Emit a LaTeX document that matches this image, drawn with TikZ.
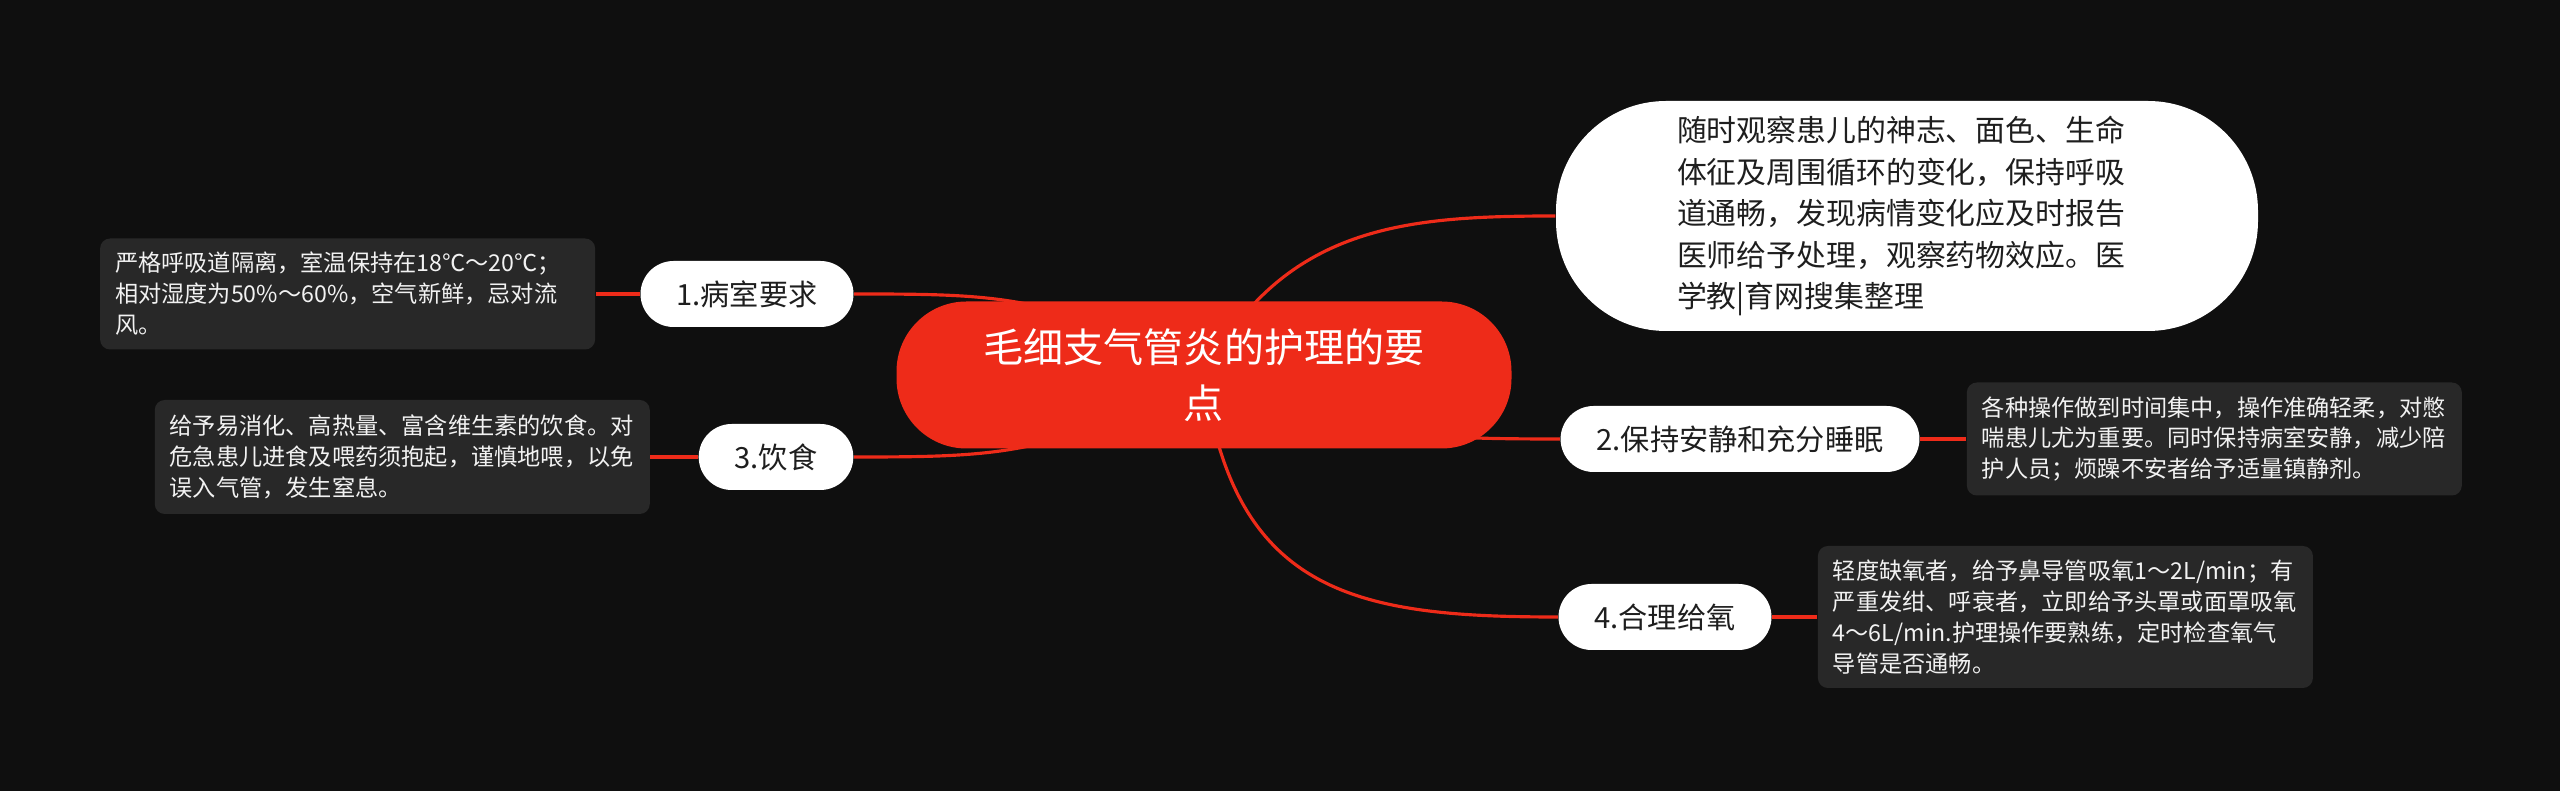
\documentclass[tikz,border=0pt]{standalone}
\usepackage{fontspec}
\setmainfont{Noto Sans CJK SC}
\usetikzlibrary{positioning}
\definecolor{PageBlack}{HTML}{0F0F0F}
\definecolor{RootRed}{HTML}{EE2B19}
\definecolor{NoteGray}{HTML}{282828}
\definecolor{NoteInk}{HTML}{F2F2F2}
\definecolor{BranchInk}{HTML}{1E1E1E}
\pgfdeclarelayer{back}
\pgfsetlayers{back,main}

\begin{document}
\begin{tikzpicture}[
  branch/.style={fill=white, text=BranchInk, rounded corners=0.33cm,
    minimum height=0.66cm, inner xsep=0.36cm, inner ysep=0pt,
    font=\fontsize{8.3pt}{10pt}\selectfont},
  note/.style={fill=NoteGray, text=NoteInk, rounded corners=0.1cm,
    align=left, text width=4.65cm, inner xsep=0.15cm, inner ysep=0pt,
    font=\fontsize{6.6pt}{8.8pt}\selectfont},
  link/.style={draw=RootRed, line width=0.9pt}]
  \useasboundingbox (0,0) rectangle (25.6,7.91);

  % Central topic and the long remark above it.
  \node[fill=RootRed, text=white, rounded corners=0.7cm, align=center,
    minimum width=6.15cm, minimum height=1.47cm,
    font=\fontsize{11.4pt}{15.8pt}\selectfont] (root) at (12.04,4.16)
    {毛细支气管炎的护理的要\\点};
  \node[fill=white, text=BranchInk, rounded corners=1.1cm, align=left,
    text width=4.6cm, minimum width=7.02cm, minimum height=2.3cm,
    font=\fontsize{8.5pt}{11.8pt}\selectfont] (watch) at (19.07,5.75)
    {随时观察患儿的神志、面色、生命\\体征及周围循环的变化，保持呼吸\\道通畅，发现病情变化应及时报告\\医师给予处理，观察药物效应。医\\学教|育网搜集整理};

  % Four branches.
  \node[branch] (ward) at (7.47,4.97) {1.病室要求};
  \node[branch] (diet) at (7.76,3.34) {3.饮食};
  \node[branch] (quiet) at (17.40,3.52) {2.保持安静和充分睡眠};
  \node[branch] (oxygen) at (16.65,1.74) {4.合理给氧};

  % Notes next to the branches.
  \node[note, minimum height=1.11cm, left=0.44cm of ward] (wardnote)
    {严格呼吸道隔离，室温保持在18℃～20℃；\\相对湿度为50\%～60\%，空气新鲜，忌对流\\风。};
  \node[note, minimum height=1.14cm, left=0.475cm of diet] (dietnote)
    {给予易消化、高热量、富含维生素的饮食。对\\危急患儿进食及喂药须抱起，谨慎地喂，以免\\误入气管，发生窒息。};
  \node[note, minimum height=1.13cm, right=0.46cm of quiet] (quietnote)
    {各种操作做到时间集中，操作准确轻柔，对憋\\喘患儿尤为重要。同时保持病室安静，减少陪\\护人员；烦躁不安者给予适量镇静剂。};
  \node[note, minimum height=1.42cm, right=0.45cm of oxygen] (oxygennote)
    {轻度缺氧者，给予鼻导管吸氧1～2L/min；有\\严重发绀、呼衰者，立即给予头罩或面罩吸氧\\4～6L/min.护理操作要熟练，定时检查氧气\\导管是否通畅。};

  % Connectors behind the nodes.
  \begin{pgfonlayer}{back}
    \fill[PageBlack] (0,0) rectangle (25.6,7.91);
    \draw[link] (root.center) .. controls +(-1.5,0.8) and +(1.5,0) .. (ward.east);
    \draw[link] (root.center) .. controls +(-1.5,-0.8) and +(1.5,0) .. (diet.east);
    \draw[link] (root.center) .. controls +(0.8,1.5) and +(-1.5,0) .. (watch.west);
    \draw[link] (root.center) .. controls +(1.5,-0.6) and +(-1.5,0) .. (quiet.west);
    \draw[link] (root.center) .. controls +(0.3,-2.2) and +(-2,0) .. (oxygen.west);
    \draw[link] (ward.west) -- (wardnote.east);
    \draw[link] (diet.west) -- (dietnote.east);
    \draw[link] (quiet.east) -- (quietnote.west);
    \draw[link] (oxygen.east) -- (oxygennote.west);
  \end{pgfonlayer}
\end{tikzpicture}
\end{document}
